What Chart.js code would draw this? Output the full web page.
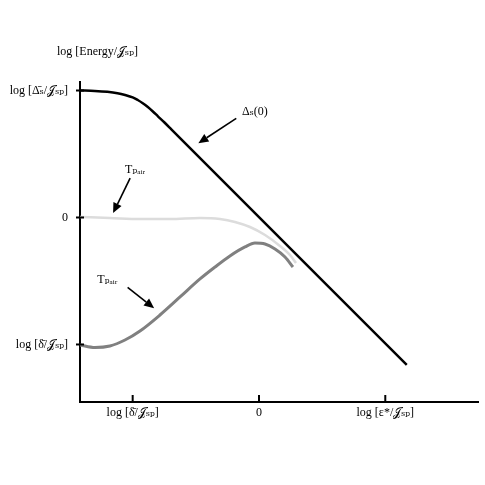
<!DOCTYPE html>
<html><head><meta charset="utf-8">
<script src="https://cdn.jsdelivr.net/npm/chart.js@4.4.1/dist/chart.umd.min.js"></script>
<style>html,body{margin:0;padding:0;background:#fff}#wrap{width:485px;height:485px}</style>
</head><body><div id="wrap"><canvas id="c" width="485" height="485"></canvas></div>
<script>
// ---- data (log-scale energy units) ----
const deltaX = [-1.417,-1.3,-1.2,-1.12,-1.06,-1.0,-0.96,-0.92,-0.88,-0.84,-0.8,-0.75,-0.69,1.17];
const deltaY = [1.0,0.997,0.99,0.979,0.965,0.946,0.925,0.9,0.87,0.835,0.797,0.75,0.69,-1.16];
const tpairUpperX = [-1.417,-1.18,-0.942,-0.705,-0.467,-0.309,-0.19,-0.071,0.048,0.166,0.245,0.293];
const tpairUpperY = [0.004,-0.004,-0.012,-0.012,-0.004,-0.012,-0.035,-0.075,-0.138,-0.224,-0.295,-0.358];
const tpairLowerX = [-1.417,-1.299,-1.18,-1.061,-0.942,-0.784,-0.625,-0.467,-0.348,-0.23,-0.111,-0.032,0.048,0.127,0.206,0.269];
const tpairLowerY = [-1.004,-1.024,-1.012,-0.965,-0.894,-0.768,-0.626,-0.484,-0.39,-0.303,-0.232,-0.201,-0.209,-0.248,-0.311,-0.39];
const xTickValues = [-1, 0, 1];
const xTickLabels = ['log [δ̄/𝒥ₛₚ]', '0', 'log [ε*/𝒥ₛₚ]'];
const yTickValues = [-1, 0, 1];
const yTickLabels = ['log [δ̄/𝒥ₛₚ]', '0', 'log [Δ̄ₛ/𝒥ₛₚ]'];
const yAxisTitle = 'log [Energy/𝒥ₛₚ]';
const labelDelta = 'Δₛ(0)';
const labelTpairUpper = 'Tₚₐᵢᵣ';
const labelTpairLower = 'Tₚₐᵢᵣ';

const pts = (xs, ys) => xs.map((x, i) => ({x, y: ys[i]}));
const FONT = '"Liberation Serif", "DejaVu Serif", serif';

function arrow(ctx, x1, y1, x2, y2) {
  ctx.save();
  ctx.strokeStyle = '#000'; ctx.fillStyle = '#000'; ctx.lineWidth = 1.6;
  const a = Math.atan2(y2 - y1, x2 - x1), L = 10, W = 4.5;
  const bx = x2 - L * Math.cos(a), by = y2 - L * Math.sin(a);
  ctx.beginPath(); ctx.moveTo(x1, y1); ctx.lineTo(bx, by); ctx.stroke();
  ctx.beginPath(); ctx.moveTo(x2, y2);
  ctx.lineTo(bx + W * Math.sin(a), by - W * Math.cos(a));
  ctx.lineTo(bx - W * Math.sin(a), by + W * Math.cos(a));
  ctx.closePath(); ctx.fill();
  ctx.restore();
}

const deco = {
  id: 'deco',
  afterDraw(chart) {
    const {ctx, scales: {x, y}} = chart;
    ctx.save();
    ctx.strokeStyle = '#000'; ctx.lineWidth = 2;
    const x0 = x.left, y0 = y.bottom;
    yTickValues.forEach(v => { const p = y.getPixelForValue(v); ctx.beginPath(); ctx.moveTo(x0 - 4, p); ctx.lineTo(x0 + 4, p); ctx.stroke(); });
    xTickValues.forEach(v => { const p = x.getPixelForValue(v); ctx.beginPath(); ctx.moveTo(p, y0 - 7); ctx.lineTo(p, y0 + 1); ctx.stroke(); });
    ctx.fillStyle = '#000';
    ctx.textBaseline = 'middle';
    ctx.font = '12px ' + FONT;
    ctx.textAlign = 'left';
    ctx.fillText(yAxisTitle, 57, 52);
    ctx.fillText(labelDelta, x.getPixelForValue(-0.135), y.getPixelForValue(0.83));
    ctx.fillText(labelTpairUpper, x.getPixelForValue(-1.06), y.getPixelForValue(0.375));
    ctx.fillText(labelTpairLower, x.getPixelForValue(-1.28), y.getPixelForValue(-0.49));
    arrow(ctx, x.getPixelForValue(-0.18), y.getPixelForValue(0.78), x.getPixelForValue(-0.48), y.getPixelForValue(0.585));
    arrow(ctx, x.getPixelForValue(-1.02), y.getPixelForValue(0.31), x.getPixelForValue(-1.155), y.getPixelForValue(0.035));
    arrow(ctx, x.getPixelForValue(-1.04), y.getPixelForValue(-0.55), x.getPixelForValue(-0.83), y.getPixelForValue(-0.715));
    ctx.restore();
  }
};

new Chart(document.getElementById('c'), {
  type: 'scatter',
  data: {
    datasets: [
      {data: pts(tpairUpperX, tpairUpperY), showLine: true, borderColor: '#dcdcdc', borderWidth: 2.5, pointRadius: 0, cubicInterpolationMode: 'monotone'},
      {data: pts(tpairLowerX, tpairLowerY), showLine: true, borderColor: '#808080', borderWidth: 3, pointRadius: 0, cubicInterpolationMode: 'monotone'},
      {data: pts(deltaX, deltaY), showLine: true, borderColor: '#000', borderWidth: 2.5, pointRadius: 0, cubicInterpolationMode: 'monotone'}
    ]
  },
  options: {
    responsive: false, animation: false, devicePixelRatio: 1,
    layout: {padding: {top: 82, right: 7, left: 0, bottom: 0}},
    plugins: {legend: {display: false}, tooltip: {enabled: false}},
    scales: {
      x: {
        type: 'linear', min: -1.417, max: 1.734,
        afterFit(s) { s.height = 83; },
        afterBuildTicks(s) { s.ticks = xTickValues.map(v => ({value: v})); },
        grid: {display: true, drawOnChartArea: false, drawTicks: false},
        border: {display: true, color: '#000', width: 2},
        ticks: {padding: 4, color: '#000', font: {family: FONT, size: 12}, maxRotation: 0,
          callback: v => xTickLabels[xTickValues.indexOf(v)]}
      },
      y: {
        type: 'linear', min: -1.453, max: 1.067,
        afterFit(s) { s.width = 80; },
        afterBuildTicks(s) { s.ticks = yTickValues.map(v => ({value: v})); },
        grid: {display: true, drawOnChartArea: false, drawTicks: false},
        border: {display: true, color: '#000', width: 2},
        ticks: {padding: 12, color: '#000', font: {family: FONT, size: 12},
          callback: v => yTickLabels[yTickValues.indexOf(v)]}
      }
    }
  },
  plugins: [deco]
});
</script></body></html>
